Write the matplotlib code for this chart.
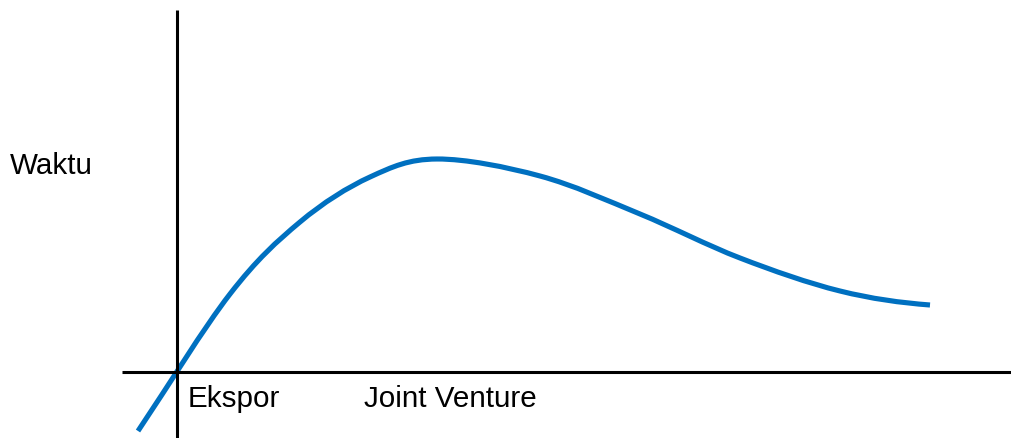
import matplotlib
matplotlib.use("Agg")
import matplotlib.pyplot as plt
from matplotlib.path import Path
from matplotlib.patches import PathPatch

# curve, origin at the crossing of the two axis lines
curve_x = [-39, 53, 123, 193, 260, 363, 463, 563, 663, 753]
curve_y = [-59, 78, 150, 195, 213, 196, 158, 114, 81, 67]

y_label = "Waktu"
x_labels = ["Ekspor", "Joint Venture"]
x_label_pos = [11, 187]

plt.rcParams['font.family'] = ['Liberation Sans', 'DejaVu Sans']


def smooth_path(xs, ys):
    # catmull-rom through the points, written as cubic bezier segments
    pts = list(zip(xs, ys))
    # straight start, flat end
    first = (2 * pts[0][0] - pts[1][0], 2 * pts[0][1] - pts[1][1])
    last = (2 * pts[-1][0] - pts[-2][0], pts[-1][1])
    ext = [first] + pts + [last]
    verts = [pts[0]]
    codes = [Path.MOVETO]
    for i in range(1, len(ext) - 2):
        p0, p1, p2, p3 = ext[i - 1], ext[i], ext[i + 1], ext[i + 2]
        c1 = (p1[0] + (p2[0] - p0[0]) / 6, p1[1] + (p2[1] - p0[1]) / 6)
        c2 = (p2[0] - (p3[0] - p1[0]) / 6, p2[1] - (p3[1] - p1[1]) / 6)
        verts += [c1, c2, p2]
        codes += [Path.CURVE4] * 3
    return Path(verts, codes)


fig = plt.figure(figsize=(10.12, 4.38), dpi=100)
ax = fig.add_axes([0, 0, 1, 1])
ax.set_xlim(-177, 835)
ax.set_ylim(-66, 372)
ax.axis('off')

# axis lines
ax.plot([-55, 835], [0, 0], color='black', lw=2.2, solid_capstyle='butt')
ax.plot([0, 0], [-66, 362], color='black', lw=2.2, solid_capstyle='butt')

ax.add_patch(PathPatch(smooth_path(curve_x, curve_y), fill=False,
                       edgecolor='#0070C0', lw=3.7, capstyle='butt',
                       joinstyle='round'))

ax.text(-167, 206, y_label, fontsize=21.3, ha='left', va='center')
for lbl, xp in zip(x_labels, x_label_pos):
    ax.text(xp, -27, lbl, fontsize=21.3, ha='left', va='center')

fig.savefig("out.png", dpi=100)
